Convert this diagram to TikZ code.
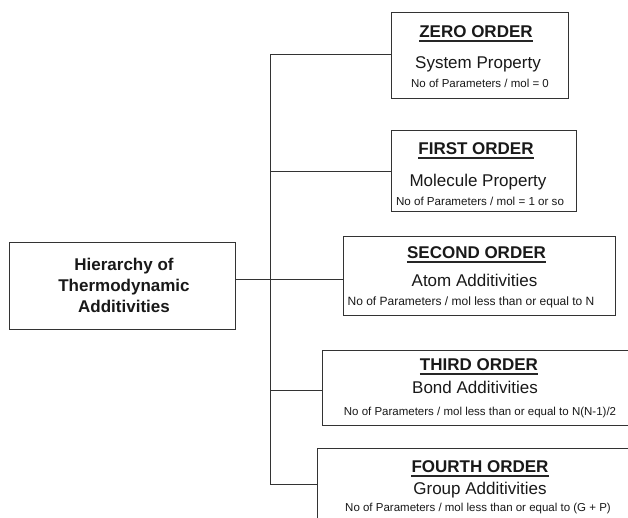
\documentclass[tikz,border=0pt]{standalone}
\usepackage{fontspec}
\setmainfont{Liberation Sans}
\usetikzlibrary{calc}
\begin{document}
\begin{tikzpicture}[x=1pt,y=-1pt,
  line/.style={draw=black!80, line width=1pt},
  box/.style={line, rectangle, inner sep=0pt},
  head/.style={font=\fontsize{17}{20}\selectfont\bfseries, anchor=base, inner sep=0pt, text=black!90},
  sub/.style={font=\fontsize{17}{20}\selectfont, anchor=base, inner sep=0pt, text=black!90},
  small/.style={font=\fontsize{11.5}{14}\selectfont, anchor=base, inner sep=0pt, text=black!90},
  uline/.style={draw=black!85, line width=1.3pt}]
\clip (0,0) rectangle (628,517);
\fill[white] (0,0) rectangle (628,517);
% boxes
\node[box, minimum width=226pt, minimum height=87pt] (main) at (122,285.5) {};
\node[box, minimum width=177pt, minimum height=86pt] (zero) at (479.5,55) {};
\node[box, minimum width=185pt, minimum height=81pt] (first) at (483.5,170.5) {};
\node[box, minimum width=272pt, minimum height=79pt] (second) at (479,275.5) {};
\node[box, minimum width=338pt, minimum height=75pt] (third) at (491,387.5) {};
\node[box, minimum width=343pt, minimum height=112pt] (fourth) at (488.5,504) {};
% main text
\node[font=\fontsize{17}{21}\selectfont\bfseries, align=center, inner sep=0pt, text=black!90] (mt) at (124,285) {Hierarchy of\\Thermodynamic\\Additivities};
% zero order
\node[head] (zh) at (476,37) {ZERO ORDER};
\node[sub] (zs) at (478,68) {System Property};
\node[small] (zp) at (480,87) {No of Parameters / mol = 0};
% first order
\node[head] (fh) at (476,154) {FIRST ORDER};
\node[sub] (fs) at (478,186) {Molecule Property};
\node[small, font=\fontsize{11.6}{14}\selectfont] (fp) at (480,205) {No of Parameters / mol = 1 or so};
% second order
\node[head] (sh) at (476.5,258) {SECOND ORDER};
\node[sub] (ss) at (474.5,286) {Atom Additivities};
\node[small, font=\fontsize{12}{14}\selectfont] (sp) at (471,305) {No of Parameters / mol less than or equal to N};
% third order
\node[head] (th) at (479,370) {THIRD ORDER};
\node[sub] (ts) at (475,393) {Bond Additivities};
\node[small] (tp) at (480,415) {No of Parameters / mol less than or equal to N(N-1)/2};
% fourth order
\node[head] (qh) at (480,472) {FOURTH ORDER};
\node[sub] (qs) at (480,494) {Group Additivities};
\node[small] (qp) at (478,511) {No of Parameters / mol less than or equal to (G + P)};
% underlines
\foreach \h in {zh,fh,sh,th,qh}{
  \draw[uline] ($(\h.base west)+(0,4)$) -- ($(\h.base east)+(0,4)$);
}
% spine
\coordinate (s0) at (270,54);
\coordinate (s1) at (270,171);
\coordinate (s2) at (270,279);
\coordinate (s3) at (270,390);
\coordinate (s4) at (270,484);
\draw[line] (s0) -- (s4);
\draw[line] (s0) -- (zero.west |- s0);
\draw[line] (s1) -- (first.west |- s1);
\draw[line] (main.east |- s2) -- (second.west |- s2);
\draw[line] (s3) -- (third.west |- s3);
\draw[line] (s4) -- (fourth.west |- s4);
\end{tikzpicture}
\end{document}
